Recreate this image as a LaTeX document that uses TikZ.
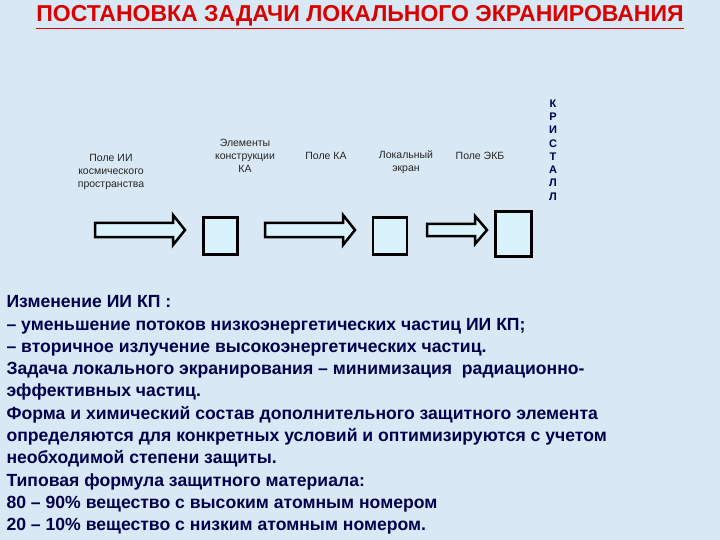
\documentclass[tikz,border=0pt]{standalone}
\usepackage{fontspec}
\setmainfont{Liberation Sans}
\definecolor{bgc}{HTML}{D9E8F5}
\begin{document}
\begin{tikzpicture}[x=1pt,y=-1pt,
 lbl/.style={font=\fontsize{10.5}{13}\selectfont,align=center,text=black!85},
 bx/.style={draw=black,line width=2.5pt,fill=cyan!15},
 arr/.style={draw=black,line width=2.5pt,fill=cyan!15},
 body/.style={anchor=west,font=\bfseries\fontsize{17.6}{22.3}\selectfont,text=blue!30!black,align=left}]
\fill[bgc] (0,0) rectangle (720,540);
\useasboundingbox (0,0) rectangle (720,540);
\node[font=\bfseries\fontsize{23}{26}\selectfont,text=red!85!black] (title) at (360,17) {\underline{ПОСТАНОВКА ЗАДАЧИ ЛОКАЛЬНОГО ЭКРАНИРОВАНИЯ}};
\node[lbl] (l1) at (111,172) {Поле ИИ\\космического\\пространства};
\node[lbl] (l2) at (245,156) {Элементы\\конструкции\\КА};
\node[lbl] (l3) at (326,156) {Поле КА};
\node[lbl] (l4) at (406,162) {Локальный\\экран};
\node[lbl] (l5) at (480,156) {Поле ЭКБ};
\node[font=\bfseries\fontsize{11}{13.3}\selectfont,align=center,text=blue!30!black] (l6) at (553,150) {К\\Р\\И\\С\\Т\\А\\Л\\Л};
\draw[arr] (95,223) -- (173,223) -- (173,215) -- (185,230) -- (173,245) -- (173,237) -- (95,237) -- cycle;
\draw[arr] (265,223) -- (343,223) -- (343,215) -- (355,230) -- (343,245) -- (343,237) -- (265,237) -- cycle;
\draw[arr] (427,224) -- (475,224) -- (475,216) -- (487,230) -- (475,244) -- (475,236) -- (427,236) -- cycle;
\node[bx,minimum width=34pt,minimum height=37pt] (b1) at (220.5,236) {};
\node[bx,minimum width=34pt,minimum height=37pt] (b2) at (390,236) {};
\node[bx,minimum width=36pt,minimum height=45pt] (b3) at (513.5,234) {};
\node[body] (t) at (3,415) {Изменение ИИ КП :\\
– уменьшение потоков низкоэнергетических частиц ИИ КП;\\
– вторичное излучение высокоэнергетических частиц.\\
Задача локального экранирования – минимизация\ \ радиационно-\\
эффективных частиц.\\
Форма и химический состав дополнительного защитного элемента\\
определяются для конкретных условий и оптимизируются с учетом\\
необходимой степени защиты.\\
Типовая формула защитного материала:\\
80 – 90\% вещество с высоким атомным номером\\
20 – 10\% вещество с низким атомным номером.};
\end{tikzpicture}
\end{document}
